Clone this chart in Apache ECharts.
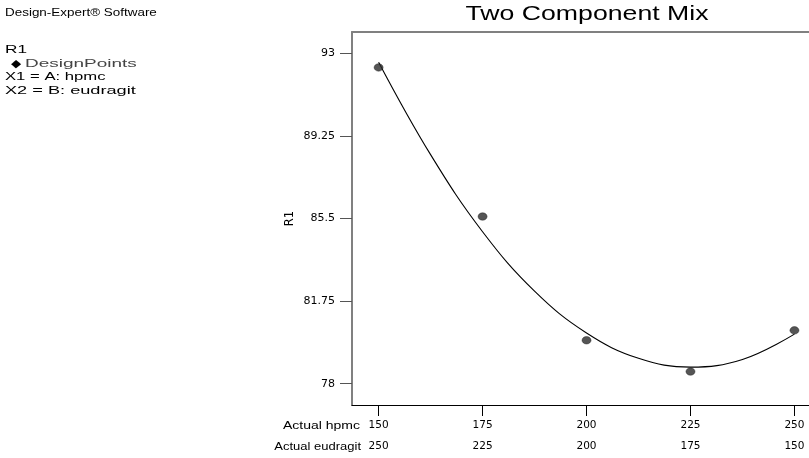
<!DOCTYPE html>
<html>
<head>
<meta charset="utf-8">
<script src="https://cdn.jsdelivr.net/npm/echarts@6/dist/echarts.min.js"></script>
<style>
html,body{margin:0;padding:0;background:#fff;}
#chart{width:809px;height:458px;}
</style>
</head>
<body>
<div id="chart"></div>
<script>
// Design points
var hpmc = [150, 175, 200, 225, 250];
var eudragit = [250, 225, 200, 175, 150];
var r1 = [92.36, 85.59, 79.97, 78.55, 80.42];

// Fitted curve
var curveHpmc = [150, 162.5, 175, 187.5, 200, 212.5, 225, 237.5, 250];
var curveR1 = [92.6, 88.4, 84.9, 82.2, 80.3, 79.15, 78.75, 79.1, 80.25];

// Tick labels
var yTicks = [78, 81.75, 85.5, 89.25, 93];
var xTicks = [150, 175, 200, 225, 250];

var chart = echarts.init(document.getElementById('chart'), null, {renderer: 'canvas'});

var pts = hpmc.map(function (h, i) { return [h, r1[i]]; });
var curve = curveHpmc.map(function (h, i) { return [h, curveR1[i]]; });

var smallFont = 'Liberation Sans, Arial, sans-serif';

function txt(x, y, s, opts) {
  opts = opts || {};
  return {
    type: 'text', x: x, y: y, scaleX: opts.scaleX || 1.42,
    style: {
      text: s, fill: opts.fill || '#000',
      font: (opts.size || 10) + 'px ' + smallFont,
      align: opts.align || 'left', verticalAlign: 'middle'
    }
  };
}

chart.setOption({
  animation: false,
  backgroundColor: '#fff',
  grid: {left: 352, top: 32, right: 0, bottom: 53, show: false},
  xAxis: [{
    type: 'value', min: 143.6, max: 253.5, position: 'bottom',
    axisLine: {show: true, lineStyle: {color: '#000', width: 1.2}},
    axisTick: {show: true, customValues: xTicks, length: 11, inside: false, lineStyle: {color: '#000', width: 1}},
    axisLabel: {
      show: true, customValues: xTicks, margin: 10, color: '#000',
      fontFamily: 'DejaVu Sans', fontSize: 10.5, lineHeight: 21,
      formatter: function (v) {
        var i = xTicks.indexOf(v);
        return v + '\n' + eudragit[i];
      }
    },
    splitLine: {show: false}
  }, {
    type: 'value', min: 143.6, max: 253.5, position: 'top',
    axisLine: {show: true, lineStyle: {color: '#808080', width: 2}},
    axisTick: {show: false}, axisLabel: {show: false}, splitLine: {show: false}
  }],
  yAxis: {
    type: 'value', min: 77.03, max: 93.97,
    name: 'R1', nameLocation: 'middle', nameGap: 56, nameMoveOverlap: false,
    nameTextStyle: {color: '#000', fontFamily: 'DejaVu Sans', fontSize: 11.5},
    axisLine: {show: true, lineStyle: {color: '#808080', width: 2}},
    axisTick: {show: true, customValues: yTicks, length: 12, lineStyle: {color: '#555', width: 1}},
    axisLabel: {show: true, customValues: yTicks, margin: 17, color: '#000',
      fontFamily: 'DejaVu Sans', fontSize: 11},
    splitLine: {show: false}
  },
  series: [{
    type: 'line', data: curve, smooth: 0.4, showSymbol: false, symbol: 'none',
    lineStyle: {color: '#000', width: 1.1}, z: 2
  }, {
    type: 'scatter', data: pts, symbol: 'circle', symbolSize: [9, 7.5],
    itemStyle: {color: '#2b2b2b', borderColor: '#111', borderWidth: 0.5}, z: 3
  }],
  graphic: [
    {type: 'text', x: 587, y: 14, scaleX: 1.27,
      style: {text: 'Two Component Mix', fill: '#000', font: '21px Liberation Sans, Arial, sans-serif',
        align: 'center', verticalAlign: 'middle'}},
    txt(5, 13, 'Design-Expert® Software', {size: 10.5, scaleX: 1.28}),
    txt(5, 50, 'R1', {size: 11.5, scaleX: 1.5}),
    txt(11, 63.5, '◆', {scaleX: 1.2, size: 11}),
    txt(25, 63.5, 'DesignPoints', {fill: '#444', size: 11.5, scaleX: 1.65}),
    txt(5, 77, 'X1 = A: hpmc', {size: 11.5, scaleX: 1.45}),
    txt(5, 90.5, 'X2 = B: eudragit', {size: 11.5, scaleX: 1.58}),
    txt(360, 426, 'Actual hpmc', {align: 'right', size: 10, scaleX: 1.4}),
    txt(361, 447, 'Actual eudragit', {align: 'right', size: 10, scaleX: 1.3})
  ]
});
</script>
</body>
</html>
